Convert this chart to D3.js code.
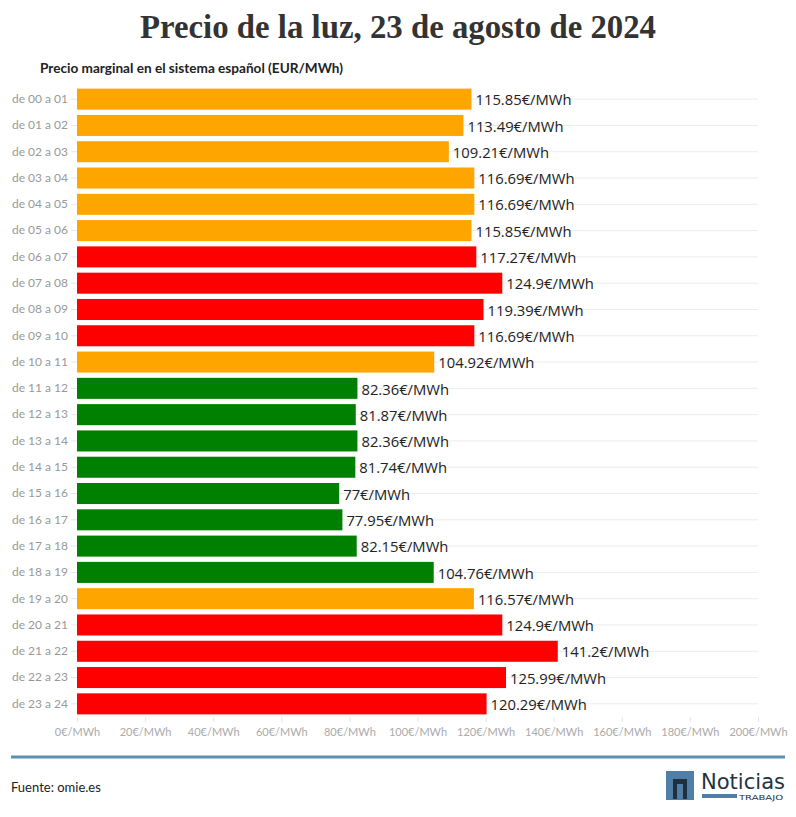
<!DOCTYPE html>
<html><head><meta charset="utf-8">
<script src="https://cdn.jsdelivr.net/npm/d3@7"></script>
<style>body{margin:0;background:#fff;} svg{display:block;}</style>
</head><body>
<script>
const categories = ["de 00 a 01","de 01 a 02","de 02 a 03","de 03 a 04","de 04 a 05","de 05 a 06","de 06 a 07","de 07 a 08","de 08 a 09","de 09 a 10","de 10 a 11","de 11 a 12","de 12 a 13","de 13 a 14","de 14 a 15","de 15 a 16","de 16 a 17","de 17 a 18","de 18 a 19","de 19 a 20","de 20 a 21","de 21 a 22","de 22 a 23","de 23 a 24"];
const prices = [115.85,113.49,109.21,116.69,116.69,115.85,117.27,124.9,119.39,116.69,104.92,82.36,81.87,82.36,81.74,77,77.95,82.15,104.76,116.57,124.9,141.2,125.99,120.29];
const levels = ["medio","medio","medio","medio","medio","medio","alto","alto","alto","alto","medio","bajo","bajo","bajo","bajo","bajo","bajo","bajo","bajo","medio","alto","alto","alto","alto"];
const levelColors = {bajo:"#008000", medio:"#FFA500", alto:"#FF0000"};
const xTicks = [0,20,40,60,80,100,120,140,160,180,200];

(function(){
const W=796,H=817;
const svg=d3.select("body").append("svg").attr("width",W).attr("height",H);

svg.append("text").attr("x",398).attr("y",38).attr("text-anchor","middle")
  .attr("font-family","'Liberation Serif','DejaVu Serif',serif").attr("font-weight","bold")
  .attr("font-size",33).attr("fill","#333").attr("textLength",516).attr("lengthAdjust","spacingAndGlyphs")
  .text("Precio de la luz, 23 de agosto de 2024");
svg.append("text").attr("x",40).attr("y",73).attr("font-family","Lato,sans-serif")
  .attr("font-weight","bold").attr("font-size",13).attr("fill","#222")
  .attr("textLength",303).attr("lengthAdjust","spacingAndGlyphs")
  .text("Precio marginal en el sistema español (EUR/MWh)");

const mLeft=77,mRight=758,mTop=86,mBottom=717;
const x=d3.scaleLinear().domain([0,200]).range([mLeft,mRight]);
const y=d3.scaleBand().domain(categories).range([mTop,mBottom]).paddingInner(0.2).paddingOuter(0.1);

svg.append("g").selectAll("line").data(categories).join("line")
  .attr("x1",mLeft).attr("x2",mRight)
  .attr("y1",d=>y(d)+y.bandwidth()/2).attr("y2",d=>y(d)+y.bandwidth()/2)
  .attr("stroke","#ececec").attr("stroke-width",1);

const yAxis=svg.append("g").attr("transform",`translate(${mLeft},0)`)
  .call(d3.axisLeft(y).tickSize(6).tickPadding(3));
yAxis.select(".domain").remove();
yAxis.selectAll("line").attr("stroke","#e6e6e6");
yAxis.selectAll("text").attr("font-family","Lato,sans-serif").attr("font-size",12).attr("fill","#999");

const xAxis=svg.append("g").attr("transform",`translate(0,${mBottom})`)
  .call(d3.axisBottom(x).tickValues(xTicks).tickFormat(d=>d+"€/MWh").tickSize(5).tickPadding(6));
xAxis.select(".domain").remove();
xAxis.selectAll("line").attr("stroke","#e6e6e6");
xAxis.selectAll("text").attr("font-family","Lato,sans-serif").attr("font-size",11).attr("fill","#aaa");

svg.append("g").selectAll("rect").data(categories).join("rect")
  .attr("x",x(0)).attr("y",d=>y(d)).attr("height",y.bandwidth())
  .attr("width",(d,i)=>x(prices[i])-x(0)).attr("fill",(d,i)=>levelColors[levels[i]]);

svg.append("g").selectAll("text").data(categories).join("text")
  .attr("x",(d,i)=>x(prices[i])+4).attr("y",d=>y(d)+y.bandwidth()/2+1).attr("dy","0.35em")
  .attr("font-family","'Open Sans',sans-serif").attr("font-size",14.8).attr("fill","#222")
  .text((d,i)=>prices[i]+"€/MWh");

svg.append("line").attr("x1",11).attr("x2",785).attr("y1",757).attr("y2",757)
  .attr("stroke","#5d8fb3").attr("stroke-width",3);
svg.append("text").attr("x",11).attr("y",792).attr("font-family","Lato,sans-serif")
  .attr("font-size",13).attr("fill","#222").text("Fuente: omie.es");

const lg=svg.append("g");
lg.append("rect").attr("x",666).attr("y",771).attr("width",28).attr("height",29).attr("fill","#4f7fa6");
lg.append("rect").attr("x",673).attr("y",779).attr("width",14).attr("height",20).attr("fill","#1f2f3d");
lg.append("rect").attr("x",677).attr("y",784).attr("width",6).attr("height",16).attr("fill","#4f7fa6");
lg.append("text").attr("x",701).attr("y",789).attr("font-family","'DejaVu Sans Condensed','Liberation Sans Narrow',sans-serif")
  .attr("font-size",22).attr("fill","#223344").attr("textLength",84).attr("lengthAdjust","spacingAndGlyphs").text("Noticias");
lg.append("rect").attr("x",702).attr("y",794).attr("width",35).attr("height",4).attr("fill","#4f7fa6");
lg.append("text").attr("x",739).attr("y",800).attr("font-family","'DejaVu Sans',sans-serif")
  .attr("font-size",7).attr("fill","#223344").attr("textLength",44).attr("lengthAdjust","spacingAndGlyphs").text("TRABAJO");
})();
</script>
</body></html>
